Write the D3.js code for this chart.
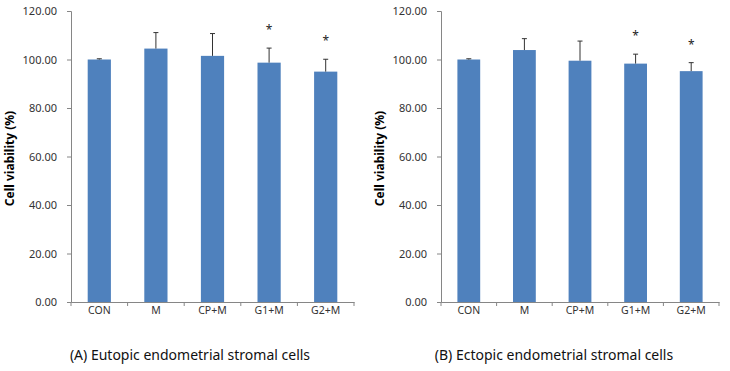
<!DOCTYPE html>
<html>
<head>
<meta charset="utf-8">
<script src="https://cdn.jsdelivr.net/npm/d3@7"></script>
<style>
  body { margin: 0; background: #fff; }
  text { font-family: "Noto Sans", "DejaVu Sans", sans-serif; fill: #222; }
</style>
</head>
<body>
<svg width="730" height="371"></svg>
<script>
var groups = ["CON", "M", "CP+M", "G1+M", "G2+M"];

// (A) eutopic
var meansA = [100.0, 104.5, 101.5, 98.7, 95.0];
var errA = [0.3, 6.6, 9.2, 6.0, 5.1];
var starsA = [false, false, false, true, true];

// (B) ectopic
var meansB = [100.0, 103.9, 99.5, 98.3, 95.2];
var errB = [0.3, 4.7, 8.1, 3.9, 3.5];
var starsB = [false, false, false, true, true];

var yTicks = [0, 20, 40, 60, 80, 100, 120];
var captions = ["(A) Eutopic endometrial stromal cells", "(B) Ectopic endometrial stromal cells"];

var svg = d3.select("svg");

function drawPanel(left, right, means, errs, stars, caption, captionX) {
  var top = 11, bottom = 302;
  var g = svg.append("g");

  var rows = groups.map(function (k, i) {
    return { name: k, mean: means[i], err: errs[i], star: stars[i] };
  });

  var x = d3.scaleBand()
      .domain(groups)
      .range([left, right])
      .paddingInner(0.59)
      .paddingOuter(0.295);

  var y = d3.scaleLinear()
      .domain([0, 120])
      .range([bottom, top]);

  var cx = function (d) { return x(d.name) + x.bandwidth() / 2; };

  // y axis
  var yAxis = d3.axisLeft(y)
      .tickValues(yTicks)
      .tickSize(4)
      .tickFormat(d3.format(".2f"));
  var ya = g.append("g")
      .attr("transform", "translate(" + left + ",0)")
      .call(yAxis);
  ya.select(".domain").attr("stroke", "#868686");
  ya.selectAll(".tick line").attr("stroke", "#868686");
  ya.selectAll(".tick text")
      .attr("x", -14)
      .style("font-size", "11px")
      .style("fill", "#333");

  // bars
  g.selectAll(".bar")
      .data(rows)
      .enter().append("rect")
      .attr("x", function (d) { return x(d.name); })
      .attr("y", function (d) { return y(d.mean); })
      .attr("width", x.bandwidth())
      .attr("height", function (d) { return y(0) - y(d.mean); })
      .attr("fill", "#4F81BD");

  // error bars (upper only)
  var eb = g.selectAll(".err")
      .data(rows)
      .enter().append("g");
  eb.append("line")
      .attr("x1", cx)
      .attr("x2", cx)
      .attr("y1", function (d) { return y(d.mean); })
      .attr("y2", function (d) { return y(d.mean + d.err); })
      .attr("stroke", "#333")
      .attr("stroke-width", 1);
  eb.append("line")
      .attr("x1", function (d) { return cx(d) - 2.5; })
      .attr("x2", function (d) { return cx(d) + 2.5; })
      .attr("y1", function (d) { return y(d.mean + d.err); })
      .attr("y2", function (d) { return y(d.mean + d.err); })
      .attr("stroke", "#333")
      .attr("stroke-width", 1);

  // asterisks
  g.selectAll(".star")
      .data(rows.filter(function (d) { return d.star; }))
      .enter().append("text")
      .attr("x", cx)
      .attr("y", function (d) { return y(d.mean + d.err) - 14; })
      .attr("text-anchor", "middle")
      .style("font-size", "12px")
      .text("*");

  // x axis
  var xAxis = d3.axisBottom(x).tickSize(0);
  var xa = g.append("g")
      .attr("transform", "translate(0," + bottom + ")")
      .call(xAxis);
  xa.select(".domain").attr("stroke", "#868686");
  xa.selectAll(".tick text")
      .attr("dy", "0.95em")
      .attr("y", 2)
      .style("font-size", "10.5px")
      .style("fill", "#333");
  // category separators
  var seps = d3.range(groups.length + 1).map(function (i) { return left + i * (right - left) / groups.length; });
  xa.selectAll(".sep")
      .data(seps)
      .enter().append("line")
      .attr("x1", function (d) { return d; })
      .attr("x2", function (d) { return d; })
      .attr("y1", 0)
      .attr("y2", 4)
      .attr("stroke", "#868686");

  // y title
  g.append("text")
      .attr("transform", "translate(" + (left - 57) + "," + ((top + bottom) / 2 + 2) + ") rotate(-90)")
      .attr("text-anchor", "middle")
      .style("font-size", "12px")
      .style("font-weight", "bold")
      .style("fill", "#000")
      .text("Cell viability (%)");

  // caption
  g.append("text")
      .attr("x", captionX)
      .attr("y", 360)
      .attr("text-anchor", "middle")
      .style("font-size", "14px")
      .style("fill", "#111")
      .text(caption);
}

drawPanel(71, 354, meansA, errA, starsA, captions[0], 190);
drawPanel(441, 719, meansB, errB, starsB, captions[1], 554);
</script>
</body>
</html>
